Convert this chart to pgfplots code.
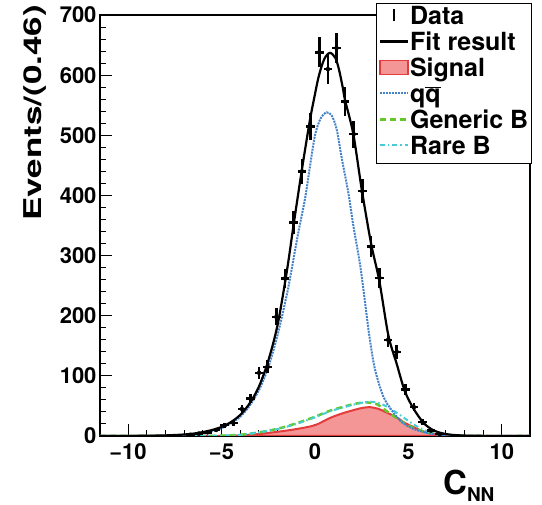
\documentclass[border=0pt]{standalone}
\usepackage{fontspec}
\setmainfont{TeX Gyre Heros}
\usepackage{pgfplots}
\usepackage{pgfplotstable}
\pgfplotsset{compat=1.18}
\definecolor{sigfill}{RGB}{244,150,150}
\definecolor{sigline}{RGB}{228,60,60}
\definecolor{qqblue}{RGB}{70,130,200}
\definecolor{genb}{RGB}{100,200,40}
\definecolor{rareb}{RGB}{70,205,215}

% data: bin centre, events, half bin width, sqrt(N)
\pgfplotstableread{
x y ex ey
-6.67 2 0.23 1.41
-6.21 4 0.23 2.00
-5.75 6 0.23 2.45
-5.29 10 0.23 3.16
-4.83 18 0.23 4.24
-4.37 22 0.23 4.69
-3.91 45 0.23 6.71
-3.45 62 0.23 7.87
-2.99 105 0.23 10.25
-2.53 115 0.23 10.72
-2.07 198 0.23 14.07
-1.61 262 0.23 16.19
-1.15 355 0.23 18.84
-0.69 440 0.23 20.98
-0.23 515 0.23 22.69
0.23 638 0.23 25.26
0.69 610 0.23 24.70
1.15 645 0.23 25.40
1.61 556 0.23 23.58
2.07 502 0.23 22.41
2.53 407 0.23 20.17
2.99 315 0.23 17.75
3.45 263 0.23 16.22
3.91 160 0.23 12.65
4.37 140 0.23 11.83
4.83 77 0.23 8.77
5.29 48 0.23 6.93
5.75 23 0.23 4.80
6.21 9 0.23 3.00
6.67 3 0.23 1.73
}\datatab

\begin{document}
\begin{tikzpicture}
\begin{axis}[
  width=430pt, height=421pt, scale only axis,
  xmin=-11.5, xmax=11.5, ymin=0, ymax=700,
  xtick={-10,-5,0,5,10}, xticklabels={−10,−5,0,5,10},
  ytick={0,100,...,700}, yticklabels={0,100,200,300,400,500,600,700},
  minor x tick num=4, minor y tick num=4,
  tick align=inside, tick pos=left,
  major tick length=12pt, minor tick length=6pt,
  axis line style={line width=1.2pt},
  tick style={line width=1pt, black},
  ticklabel style={font=\fontsize{22}{24}\selectfont\bfseries},
  xticklabel style={yshift=-4pt},
  legend style={at={(rel axis cs:0.642,1.0285)}, anchor=north west,
    draw=black, line width=1pt, fill=white,
    font=\fontsize{25}{27}\selectfont\bfseries,
    inner sep=2pt, row sep=0pt,
    nodes={inner sep=1pt, text height=18pt, text depth=6pt}},
  legend cell align=left,
]
\addlegendimage{legend image code/.code={
  \path[draw=none, fill=none] (0pt,0pt) -- (28pt,0pt);
  \draw[black, line width=2.5pt] (14pt,-3pt) -- (14pt,9pt);}}
\addlegendentry{Data}
\addlegendimage{legend image code/.code={
  \path[draw=none, fill=none] (0pt,-3pt) -- (0pt,9pt);
  \draw[black, line width=2.2pt] (0pt,3pt) -- (28pt,3pt);}}
\addlegendentry{Fit result}
\addlegendimage{legend image code/.code={
  \filldraw[fill=sigfill, draw=sigline, line width=1.5pt] (0pt,-4pt) rectangle (28pt,10pt);}}
\addlegendentry{Signal}
\addlegendimage{legend image code/.code={
  \path[draw=none, fill=none] (0pt,-3pt) -- (0pt,9pt);
  \draw[qqblue, line width=2pt, densely dotted] (0pt,3pt) -- (28pt,3pt);}}
\addlegendentry{q$\overline{\mbox{q}}$}
\addlegendimage{legend image code/.code={
  \path[draw=none, fill=none] (0pt,-3pt) -- (0pt,9pt);
  \draw[genb, line width=2.5pt, dash pattern=on 6pt off 4pt] (0pt,3pt) -- (28pt,3pt);}}
\addlegendentry{Generic B}
\addlegendimage{legend image code/.code={
  \path[draw=none, fill=none] (0pt,-3pt) -- (0pt,9pt);
  \draw[rareb, line width=2pt, dash pattern=on 5pt off 3pt on 1.5pt off 3pt] (0pt,3pt) -- (28pt,3pt);}}
\addlegendentry{Rare B}

% signal
\addplot[forget plot, smooth, fill=sigfill, draw=sigline, line width=2pt] coordinates {
(-11.5,0) (-6,0) (-5,0.3) (-4,1) (-3,3.5) (-2,7) (-1,11.5) (0,18) (0.8,30)
(1.5,38) (2.0,42.5) (2.5,46.5) (2.94,48) (3.4,45) (3.9,38) (4.37,31) (4.8,22)
(5.26,15) (5.6,10) (6,5.5) (6.5,2.5) (7,1) (7.5,0.4) (8,0.1) (9,0) (11.5,0)
} \closedcycle;
% generic B
\addplot[forget plot, smooth, genb, line width=2.5pt, dash pattern=on 6pt off 4pt] coordinates {
(-11.5,0) (-6,0.2) (-5,0.6) (-4,2) (-3,6) (-2,12) (-1,21) (0,32) (0.8,42)
(1.8,51) (2.4,55) (2.7,56) (3.3,53) (3.8,42) (4.3,31) (4.8,21) (5.3,13)
(5.8,7.5) (6.3,4) (7,1.5) (8,0.3) (9,0) (11.5,0)
};
% rare B
\addplot[forget plot, smooth, rareb, line width=2pt, dash pattern=on 5pt off 3pt on 1.5pt off 3pt] coordinates {
(-11.5,0) (-6,0.2) (-5,0.6) (-4,2) (-3,6) (-2,11.5) (-1,20) (0,31) (0.8,41)
(1.8,50) (2.4,54.5) (3.0,57) (3.5,54) (4.0,46) (4.5,36) (5.0,25) (5.5,15)
(6.0,8) (6.5,4) (7,1.5) (8,0.3) (9,0) (11.5,0)
};
% qq
\addplot[forget plot, smooth, qqblue, line width=2pt, densely dotted] coordinates {
(-11.5,0) (-9,0.1) (-8,0.4) (-7,1.5) (-6.5,2.8) (-6,4.8) (-5.5,8) (-5,13)
(-4.5,21) (-4,32) (-3.5,50) (-3,76) (-2.5,114) (-2,168) (-1.5,236) (-1.25,277)
(-0.9,337) (-0.53,395) (-0.27,448) (0,500) (0.3,528) (0.62,538) (0.89,533)
(1.16,510) (1.43,462) (1.78,405) (2.05,350) (2.41,285) (2.67,224) (2.9,168)
(3.2,112) (3.65,66) (4.1,43) (4.64,23) (5.25,12) (6,5) (6.5,2.5) (7,1)
(8,0.3) (9,0.1) (11.5,0)
};
% total fit
\addplot[forget plot, smooth, black, line width=2.2pt] coordinates {
(-11.5,0.05) (-10,0.15) (-9,0.4) (-8,1) (-7.5,1.6) (-7,2.5) (-6.5,4) (-6,6.5)
(-5.5,10) (-5,15) (-4.5,23) (-4,35) (-3.5,54) (-3,82) (-2.5,125) (-2,185)
(-1.5,275) (-1.15,350) (-0.7,443) (-0.3,520) (-0.1,553) (0.2,598) (0.5,627)
(0.8,637) (1.1,628) (1.3,607) (1.5,577) (1.61,558) (2.05,502) (2.5,410)
(3.0,320) (3.44,258) (3.92,168) (4.37,120) (4.8,75) (5.26,46) (5.8,22)
(6.3,10) (6.8,4.5) (7.3,2) (8,0.7) (9,0.2) (10,0.05) (11.5,0.02)
};
% data
\addplot[forget plot, black, only marks, mark=none,
  error bars/.cd, x dir=both, x explicit, y dir=both, y explicit,
  error mark=none, error bar style={line width=2.5pt, black}]
  table[x=x, y=y, x error=ex, y error=ey] {\datatab};
\end{axis}
\node[rotate=90, anchor=base east, inner sep=0pt] at (-58pt,431pt)
  {\scalebox{1}[0.7]{\fontsize{35}{38}\selectfont\bfseries Events/(0.46)}};
\node[anchor=base west, inner sep=0pt] at (343pt,-59pt)
  {\fontsize{33}{36}\selectfont\bfseries C\raisebox{-7pt}{\fontsize{19}{20}\selectfont NN}};
\pgfresetboundingbox
\path[use as bounding box] (-100pt,-69pt) rectangle (442pt,436pt);
\end{tikzpicture}
\end{document}
